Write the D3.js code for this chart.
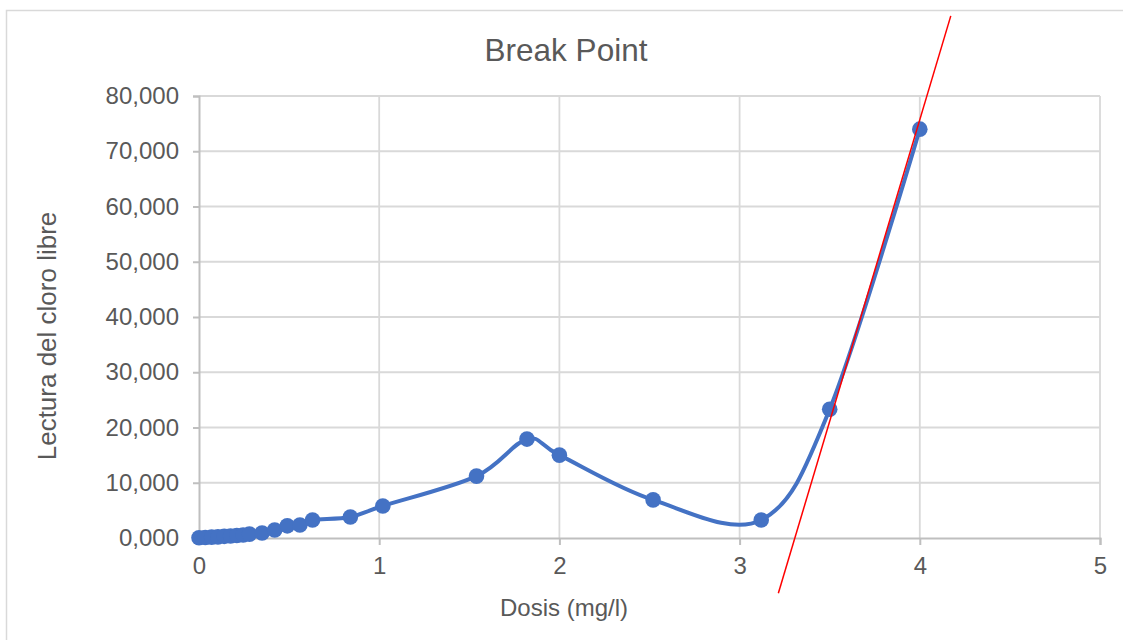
<!DOCTYPE html>
<html>
<head>
<meta charset="utf-8">
<script src="https://cdn.jsdelivr.net/npm/d3@7/dist/d3.min.js"></script>
<style>
  html, body { margin: 0; padding: 0; background: #fff; }
  svg { display: block; }
  text { font-family: "Liberation Sans", Arial, sans-serif; fill: #595959; }
</style>
</head>
<body>
<svg id="chart" width="1123" height="640"></svg>
<script>
// ---- data ----
const dosis = [0.00, 0.035, 0.07, 0.105, 0.14, 0.175, 0.21, 0.245, 0.28,
               0.35, 0.42, 0.49, 0.56, 0.63, 0.84, 1.02, 1.54, 1.82, 2.00,
               2.52, 3.12, 3.50, 4.00];
const cloro = [0.05, 0.10, 0.15, 0.20, 0.30, 0.35, 0.45, 0.55, 0.70,
               0.90, 1.45, 2.20, 2.35, 3.25, 3.80, 5.80, 11.20, 17.90, 15.00,
               6.90, 3.25, 23.30, 74.00];
const trendX = [3.215, 4.172];
const trendY = [-10.0, 94.5];
const xTicks = [0, 1, 2, 3, 4, 5];
const yTicks = [0, 10, 20, 30, 40, 50, 60, 70, 80];
const titleText = "Break Point";
const xTitle = "Dosis (mg/l)";
const yTitle = "Lectura del cloro libre";

(function () {
// ---- layout ----
const svg = d3.select("#chart");
const pL = 199, pR = 1100, pT = 96, pB = 538;
const x = d3.scaleLinear().domain([0, 5]).range([pL, pR]);
const y = d3.scaleLinear().domain([0, 80]).range([pB, pT]);
const loc = d3.formatLocale({decimal: ",", thousands: ".", grouping: [3], currency: ["", ""]});
const fmt = loc.format(".3f");

// chart border
svg.append("rect").attr("x", 6.5).attr("y", 10.5).attr("width", 1140).attr("height", 660)
  .attr("fill", "#fff").attr("stroke", "#D9D9D9").attr("stroke-width", 1.5);

// gridlines
svg.append("g").selectAll("line").data(yTicks.filter(d => d > 0)).join("line")
  .attr("x1", pL).attr("x2", pR).attr("y1", d => y(d)).attr("y2", d => y(d))
  .attr("stroke", "#D9D9D9").attr("stroke-width", 1.8);
svg.append("g").selectAll("line").data(xTicks.filter(d => d > 0)).join("line")
  .attr("y1", pT).attr("y2", pB).attr("x1", d => x(d)).attr("x2", d => x(d))
  .attr("stroke", "#D9D9D9").attr("stroke-width", 1.8);

// axes
const xAxis = svg.append("g").attr("transform", `translate(0,${pB})`)
  .call(d3.axisBottom(x).tickValues(xTicks).tickSize(7).tickPadding(12).tickFormat(d3.format("d")));
const yAxis = svg.append("g").attr("transform", `translate(${pL},0)`)
  .call(d3.axisLeft(y).tickValues(yTicks).tickSize(6).tickPadding(14).tickFormat(fmt));
[xAxis, yAxis].forEach(g => {
  g.select(".domain").attr("stroke", "#BFBFBF").attr("stroke-width", 2);
  g.selectAll(".tick line").attr("stroke", "#BFBFBF").attr("stroke-width", 2);
  g.selectAll(".tick text").attr("fill", "#595959").style("font-size", "24px")
    .style("font-family", '"Liberation Sans", Arial, sans-serif');
});

// series line (smoothed)
const pts = dosis.map((d, i) => [d, cloro[i]]);
const line = d3.line().x(d => x(d[0])).y(d => y(d[1])).curve(d3.curveCardinal.tension(0));
svg.append("path").datum(pts).attr("d", line)
  .attr("fill", "none").attr("stroke", "#4472C4").attr("stroke-width", 4)
  .attr("stroke-linejoin", "round").attr("stroke-linecap", "round");

svg.append("g").selectAll("circle").data(pts).join("circle")
  .attr("cx", d => x(d[0])).attr("cy", d => y(d[1])).attr("r", 7.8)
  .attr("fill", "#4472C4");

// trend line
const tpts = trendX.map((d, i) => [d, trendY[i]]);
svg.append("path").datum(tpts).attr("d", d3.line().x(d => x(d[0])).y(d => y(d[1])))
  .attr("stroke", "#FF0000").attr("stroke-width", 1.5).attr("fill", "none");

// titles
svg.append("text").attr("x", 566).attr("y", 50).attr("text-anchor", "middle")
  .attr("dominant-baseline", "central").style("font-size", "31.5px").text(titleText);
svg.append("text").attr("x", 564).attr("y", 607).attr("text-anchor", "middle")
  .attr("dominant-baseline", "central").style("font-size", "24px").text(xTitle);
svg.append("text").attr("transform", "translate(47,336) rotate(-90)").attr("text-anchor", "middle")
  .attr("dominant-baseline", "central").style("font-size", "26px").text(yTitle);
})();
</script>
</body>
</html>
